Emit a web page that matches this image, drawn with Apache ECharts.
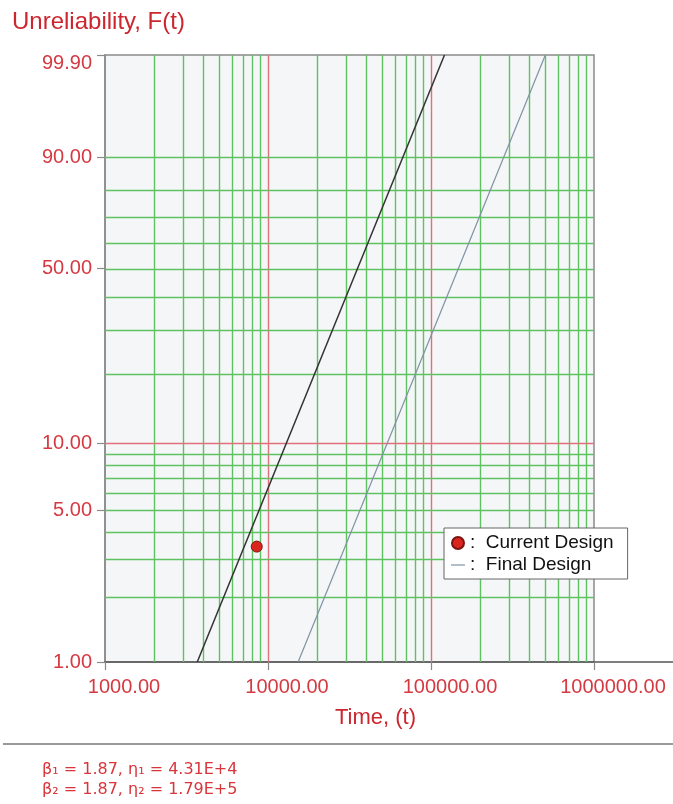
<!DOCTYPE html>
<html>
<head>
<meta charset="utf-8">
<script src="https://cdn.jsdelivr.net/npm/echarts@6/dist/echarts.min.js"></script>
<style>
  html, body { margin: 0; padding: 0; background: #fff; }
  #chart { width: 673px; height: 804px; }
</style>
</head>
<body>
<div id="chart"></div>
<script>
// Weibull probability plot: unreliability F(t) (%) against time on log paper.

// Axis ticks and grid
const timeTicks = [1000, 10000, 100000, 1000000];
const timeGridGreen = [2000, 3000, 4000, 5000, 6000, 7000, 8000, 9000,
                       20000, 30000, 40000, 50000, 60000, 70000, 80000, 90000,
                       200000, 300000, 400000, 500000, 600000, 700000, 800000, 900000];
const timeGridRed = [10000, 100000];
const unrelTicks = [1, 5, 10, 50, 90, 99.9];
const unrelGridGreen = [2, 3, 4, 5, 6, 7, 8, 9, 20, 30, 40, 50, 60, 70, 80, 90];
const unrelGridRed = [10];

// Data
const currentTime = [8530];
const currentUnrel = [3.42];
const currentFitTime = [3680, 121000];
const currentFitUnrel = [1, 99.9];
const finalFitTime = [15300, 503000];
const finalFitUnrel = [1, 99.9];

// Fitted Weibull parameters
const betaValues = [1.87, 1.87];
const etaValues = [43100, 179000];

// Weibull probability scale: F (%) -> ln(-ln(1 - F))
const wb = p => Math.log(-Math.log(1 - p / 100));
const unwb = w => (1 - Math.exp(-Math.exp(w))) * 100;

const FONT = '"Liberation Sans", Arial, sans-serif';
const RED_TXT = '#d53a42';
const GREEN = '#5fc260';
const RED_GRID = '#e0707a';

const pairs = (xs, ys) => xs.map((x, i) => [x, wb(ys[i])]);

const solid = color => ({ color: color, width: 1.4, type: 'solid' });
const gridLines = [
  ...timeGridGreen.map(t => ({ xAxis: t, lineStyle: solid(GREEN) })),
  ...timeGridRed.map(t => ({ xAxis: t, lineStyle: solid(RED_GRID) })),
  ...unrelGridGreen.map(p => ({ yAxis: wb(p), lineStyle: solid(GREEN) })),
  ...unrelGridRed.map(p => ({ yAxis: wb(p), lineStyle: solid(RED_GRID) }))
];

const fmtEta = v => v.toExponential(2).toUpperCase();
const paramText = betaValues.map((b, i) => {
  const sub = ['\u2081', '\u2082'][i];
  return '\u03b2' + sub + ' = ' + b.toFixed(2) + ', \u03b7' + sub + ' = ' + fmtEta(etaValues[i]);
}).join('\n');

// Legend icon: a thin horizontal stroke centred in a 14x12 box
const dashIcon = 'path://M0,0 M14,12 M0,5.4 L14,5.4 L14,6.6 L0,6.6 Z';

const chart = echarts.init(document.getElementById('chart'), null, { renderer: 'canvas' });

chart.setOption({
  animation: false,
  backgroundColor: '#ffffff',
  title: {
    text: 'Unreliability, F(t)',
    left: 7,
    top: 5,
    textStyle: { fontSize: 24, fontWeight: 'normal', color: '#cc262e', fontFamily: FONT }
  },
  grid: {
    left: 105, right: 79, top: 55, bottom: 142,
    show: true,
    backgroundColor: '#f4f6f8',
    borderColor: '#8a8a8a',
    borderWidth: 1.5
  },
  legend: {
    data: [
      { name: 'Current Design' },
      { name: 'Final Design', icon: dashIcon }
    ],
    orient: 'vertical',
    left: 444,
    top: 528,
    padding: [5, 14, 4, 7],
    itemGap: 2,
    itemWidth: 14,
    itemHeight: 12,
    backgroundColor: '#ffffff',
    borderColor: '#666666',
    borderWidth: 1,
    selectedMode: false,
    z: 20,
    formatter: n => ':  ' + n,
    textStyle: { fontSize: 19, color: '#111111', fontFamily: FONT, lineHeight: 20 }
  },
  xAxis: {
    type: 'log',
    logBase: 10,
    min: timeTicks[0],
    max: timeTicks[timeTicks.length - 1],
    name: 'Time, (t)',
    nameLocation: 'middle',
    nameGap: 45,
    nameTextStyle: { fontSize: 22, color: '#cc262e', fontFamily: FONT, padding: [0, 0, 0, 52] },
    axisLine: { onZero: false, lineStyle: { color: '#555555', width: 1.5 } },
    axisTick: { show: true, length: 8, lineStyle: { color: '#888888', width: 1.2 } },
    axisLabel: {
      margin: 15,
      fontSize: 20,
      color: RED_TXT,
      fontFamily: FONT,
      padding: [0, 0, 0, 38],
      showMinLabel: true,
      showMaxLabel: true,
      formatter: v => Math.round(v).toFixed(2)
    },
    splitLine: { show: false },
    minorTick: { show: false }
  },
  yAxis: {
    type: 'value',
    min: wb(unrelTicks[0]),
    max: wb(unrelTicks[unrelTicks.length - 1]),
    axisLine: { show: true, onZero: false, lineStyle: { color: '#8a8a8a', width: 1.5 } },
    axisTick: {
      show: true,
      length: 8,
      customValues: unrelTicks.map(wb),
      lineStyle: { color: '#8a8a8a', width: 1.2 }
    },
    axisLabel: {
      margin: 13,
      fontSize: 20,
      color: RED_TXT,
      fontFamily: FONT,
      customValues: unrelTicks.map(wb),
      formatter: v => {
        const f = unwb(v);
        const s = f.toFixed(2);
        return f > 99 ? '{top|' + s + '}' : s;
      },
      rich: {
        top: { fontSize: 20, color: RED_TXT, fontFamily: FONT, padding: [16, 0, 0, 0] }
      }
    },
    splitLine: { show: false }
  },
  series: [
    {
      name: 'grid',
      type: 'line',
      data: [],
      z: 1,
      silent: true,
      markLine: {
        z: 1,
        silent: true,
        symbol: ['none', 'none'],
        label: { show: false },
        emphasis: { disabled: true },
        data: gridLines
      }
    },
    {
      name: 'Current Design fit',
      type: 'line',
      z: 8,
      symbol: 'none',
      data: pairs(currentFitTime, currentFitUnrel),
      lineStyle: { color: '#333333', width: 1.5 }
    },
    {
      name: 'Final Design',
      type: 'line',
      z: 8,
      symbol: 'none',
      data: pairs(finalFitTime, finalFitUnrel),
      itemStyle: { color: '#7f93a3' },
      lineStyle: { color: '#7f93a3', width: 1.2 }
    },
    {
      name: 'Current Design',
      type: 'scatter',
      z: 9,
      symbol: 'circle',
      symbolSize: 11,
      data: pairs(currentTime, currentUnrel),
      itemStyle: { color: '#d9251d', borderColor: '#7a1510', borderWidth: 1, opacity: 1 }
    }
  ],
  graphic: [
    {
      type: 'line',
      silent: true,
      shape: { x1: 594, y1: 662, x2: 673, y2: 662 },
      style: { stroke: '#555555', lineWidth: 1.5 }
    },
    {
      type: 'line',
      silent: true,
      shape: { x1: 3, y1: 744, x2: 673, y2: 744 },
      style: { stroke: '#9a9a9a', lineWidth: 2 }
    },
    {
      type: 'text',
      left: 42,
      top: 760,
      silent: true,
      style: {
        text: paramText,
        font: '16px "DejaVu Sans", sans-serif',
        lineHeight: 20,
        fill: '#d8363c'
      }
    }
  ]
});
</script>
</body>
</html>
